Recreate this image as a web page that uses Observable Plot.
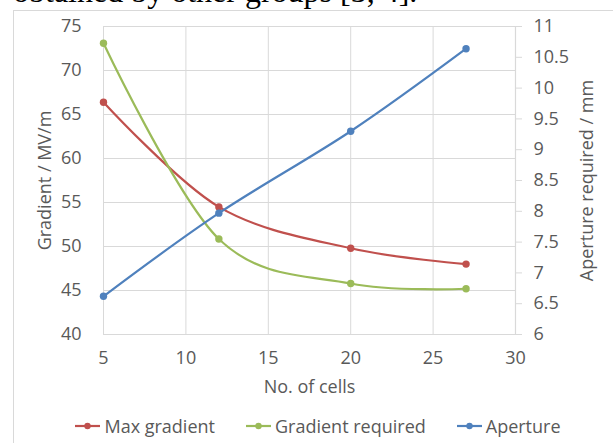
<!DOCTYPE html>
<html>
<head>
<meta charset="utf-8">
<script src="https://cdn.jsdelivr.net/npm/d3@7"></script>
<script src="https://cdn.jsdelivr.net/npm/@observablehq/plot@0.6"></script>
<style>
  html, body { margin: 0; padding: 0; background: #fff; }
  #page { position: relative; width: 613px; height: 443px; overflow: hidden; background: #fff; }
  #cut { position: absolute; left: 13px; top: -25px; line-height: 32px; font-family: "Liberation Serif", serif; font-size: 32px; color: #000; white-space: nowrap; }
  #frame { position: absolute; left: 13px; top: 10px; width: 700px; height: 500px; border: 1px solid #d9d9d9; box-sizing: border-box; }
  #chart { position: absolute; left: 0; top: 0; }
  #legend { position: absolute; left: 11px; top: 413px; width: 613px; display: flex; justify-content: center; gap: 30px; font-family: "Open Sans", sans-serif; font-size: 18px; line-height: 26px; color: #595959; }
  .item { display: flex; align-items: center; gap: 3px; }
  .item svg { display: block; }
</style>
</head>
<body>
<div id="page">
  <div id="cut">obtained by other groups [3, 4].</div>
  <div id="frame"></div>
  <div id="chart"></div>
  <div id="legend"></div>
</div>
<script>
const cells = [5, 12, 20, 27];
const maxGradient = [66.4, 54.5, 49.8, 48.0];
const gradientRequired = [73.1, 50.85, 45.8, 45.2];
const aperture = [6.62, 7.97, 9.30, 10.64];

const seriesNames = ["Max gradient", "Gradient required", "Aperture"];
const seriesColors = ["#C0504D", "#9BBB59", "#4F81BD"];

const xTicks = [5, 10, 15, 20, 25, 30];
const leftTicks = [40, 45, 50, 55, 60, 65, 70, 75];
const rightTicks = [6, 6.5, 7, 7.5, 8, 8.5, 9, 9.5, 10, 10.5, 11];

// map right axis (6..11) onto left axis (40..75)
const toLeft = v => 40 + (v - 6) * 7;

const rows = [];
cells.forEach((c, i) => {
  rows.push({series: seriesNames[0], x: c, y: maxGradient[i]});
  rows.push({series: seriesNames[1], x: c, y: gradientRequired[i]});
  rows.push({series: seriesNames[2], x: c, y: toLeft(aperture[i])});
});

const rightLabel = new Map(rightTicks.map(t => [toLeft(t), String(t)]));
const textColor = "#595959";
const gridColor = "#d9d9d9";

const chart = Plot.plot({
  width: 613,
  height: 400,
  marginLeft: 103,
  marginRight: 98,
  marginTop: 26,
  marginBottom: 66,
  style: {fontFamily: "'Open Sans', sans-serif", fontSize: "18px", color: textColor, background: "transparent", overflow: "visible"},
  x: {domain: [5, 30]},
  y: {domain: [40, 75]},
  color: {domain: seriesNames, range: seriesColors},
  marks: [
    Plot.gridX(xTicks, {stroke: gridColor, strokeOpacity: 1, strokeWidth: 1}),
    Plot.gridY(leftTicks, {stroke: gridColor, strokeOpacity: 1, strokeWidth: 1}),
    Plot.ruleY([40], {stroke: gridColor, strokeWidth: 1.2, x1: 5, x2: 30.4}),
    Plot.ruleX([30], {stroke: gridColor, strokeWidth: 1.2}),
    Plot.axisX(xTicks, {tickSize: 0, tickPadding: 17, fill: textColor, fontSize: 18,
      label: "No. of cells", labelAnchor: "center", labelArrow: "none", labelOffset: 58}),
    Plot.axisY(leftTicks, {anchor: "left", tickSize: 0, tickPadding: 22, fill: textColor, fontSize: 18,
      label: "Gradient / MV/m", labelAnchor: "center", labelArrow: "none", labelOffset: 65}),
    Plot.axisY(rightTicks.map(toLeft), {anchor: "right", tickSize: 6, tickPadding: 12, stroke: gridColor, fill: textColor, fontSize: 18,
      tickFormat: v => rightLabel.get(v),
      label: "Aperture required / mm", labelAnchor: "center", labelArrow: "none", labelOffset: 77}),
    Plot.line(rows, {x: "x", y: "y", z: "series", stroke: "series", strokeWidth: 2.2, curve: "cardinal"}),
    Plot.dot(rows, {x: "x", y: "y", fill: "series", r: 3.7})
  ]
});
document.getElementById("chart").appendChild(chart);

const legend = document.getElementById("legend");
seriesNames.forEach((name, i) => {
  const item = document.createElement("div");
  item.className = "item";
  item.innerHTML = `<svg width="27" height="10"><line x1="1" y1="5" x2="26" y2="5" stroke="${seriesColors[i]}" stroke-width="2.2"/><circle cx="13.5" cy="5" r="3.2" fill="${seriesColors[i]}"/></svg><span>${name}</span>`;
  legend.appendChild(item);
});
</script>
</body>
</html>
